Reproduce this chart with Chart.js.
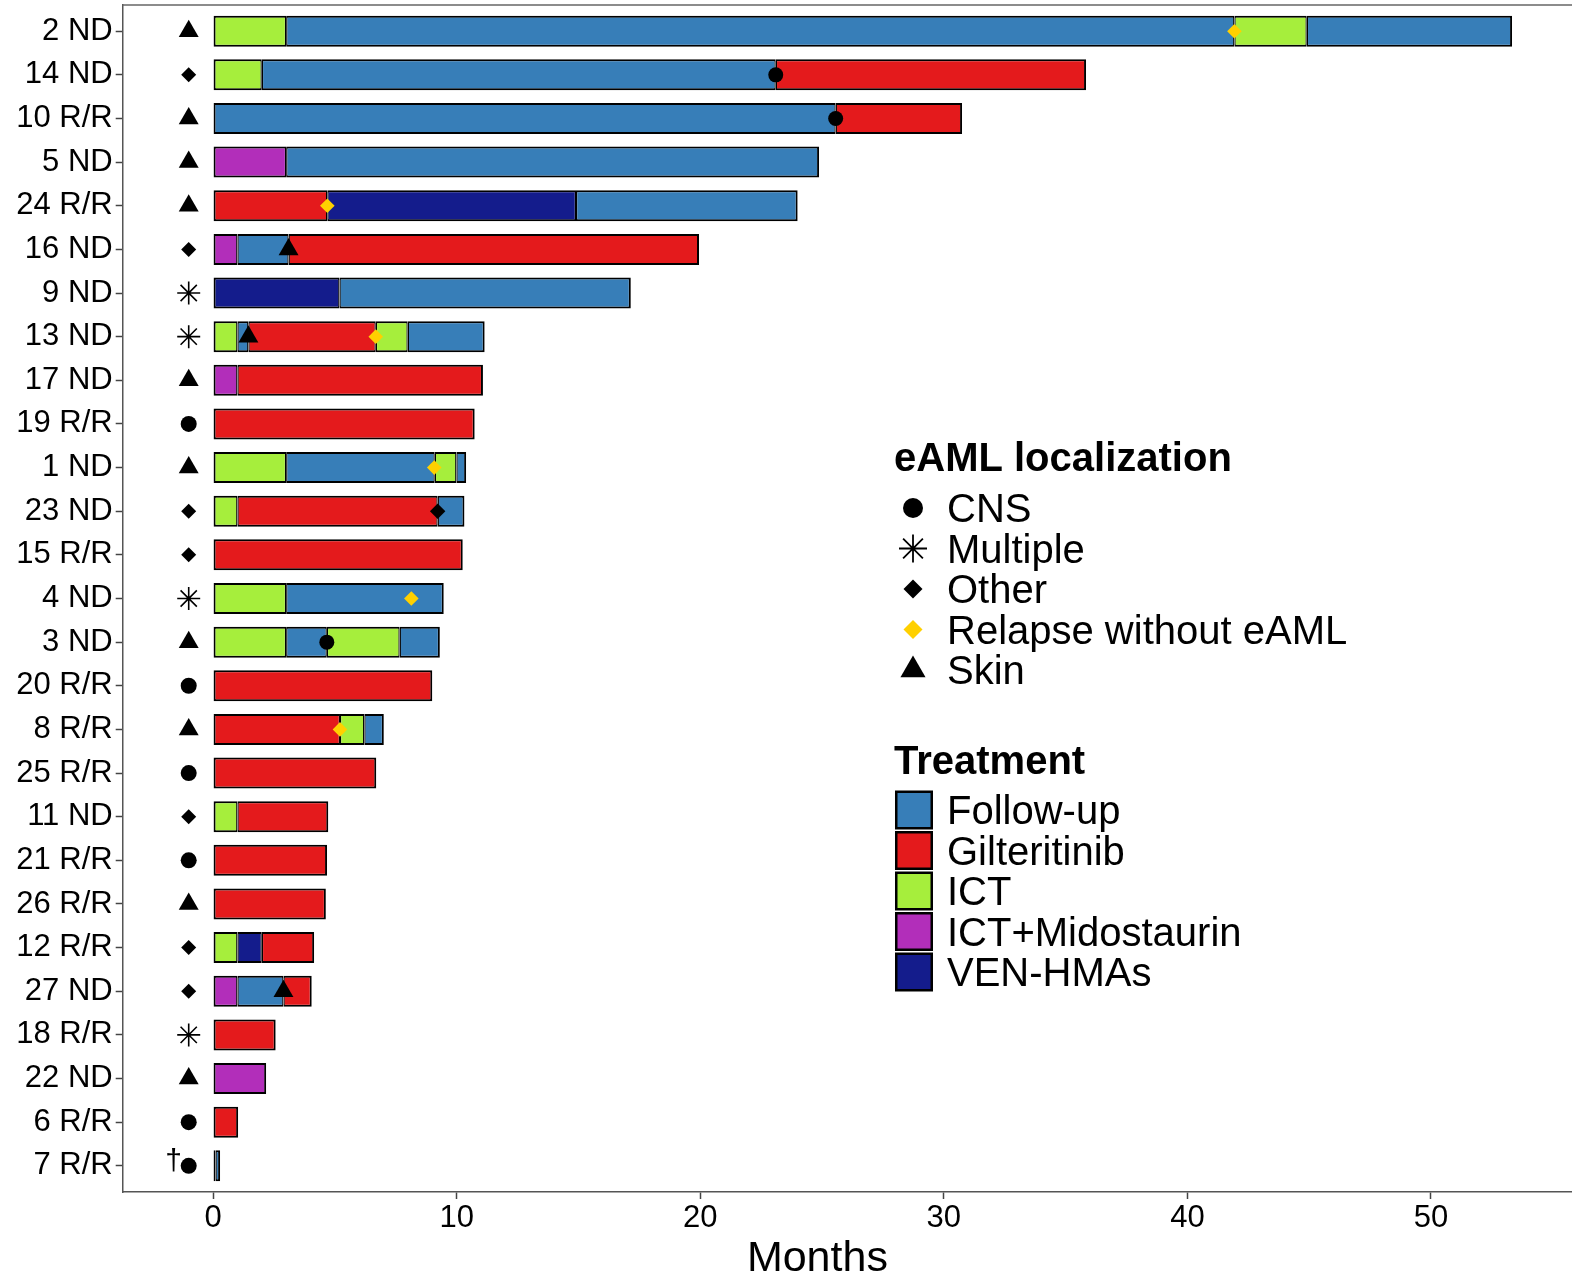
<!DOCTYPE html>
<html><head><meta charset="utf-8">
<script src="https://cdn.jsdelivr.net/npm/chart.js@4.4.1/dist/chart.umd.min.js"></script>
<style>html,body{margin:0;padding:0;background:#fff;} canvas{display:block;}</style>
</head><body>
<canvas id="c" width="1572" height="1277"></canvas>
<script>
// ---------- DATA ----------
const patients = ['2 ND','14 ND','10 R/R','5 ND','24 R/R','16 ND','9 ND','13 ND','17 ND','19 R/R',
  '1 ND','23 ND','15 R/R','4 ND','3 ND','20 R/R','8 R/R','25 R/R','11 ND','21 R/R','26 R/R',
  '12 R/R','27 ND','18 R/R','22 ND','6 R/R','7 R/R'];
const localization = ['Skin','Other','Skin','Skin','Skin','Other','Multiple','Multiple','Skin','CNS',
  'Skin','Other','Other','Multiple','Skin','CNS','Skin','CNS','Other','CNS','Skin',
  'Other','Other','Multiple','Skin','CNS','CNS'];
const deceased = ['7 R/R'];
const xTicks = [0, 10, 20, 30, 40, 50];

// treatment segments: [patient, start month, end month]
const followUp = [['2 ND',3,41.93],['2 ND',44.9,53.33],['14 ND',2,23.1],['10 R/R',0,25.56],['5 ND',3,24.88],
  ['24 R/R',14.9,24.0],['16 ND',1,3.1],['9 ND',5.19,17.15],['13 ND',1,1.45],['13 ND',7.99,11.15],
  ['1 ND',3,9.1],['1 ND',9.99,10.39],['23 ND',9.22,10.32],['4 ND',3,9.47],['3 ND',3,4.67],['3 ND',7.66,9.31],
  ['8 R/R',6.21,7.01],['27 ND',1,2.89],['7 R/R',0.1,0.29]];
const gilteritinib = [['14 ND',23.1,35.84],['10 R/R',25.56,30.75],['24 R/R',0,4.69],['16 ND',3.1,19.95],
  ['13 ND',1.45,6.68],['17 ND',1,11.08],['19 R/R',0,10.74],['23 ND',1,9.22],['15 R/R',0,10.25],
  ['20 R/R',0,9.0],['8 R/R',0,5.21],['25 R/R',0,6.7],['11 ND',1,4.73],['21 R/R',0,4.68],['26 R/R',0,4.63],
  ['12 R/R',2.0,4.15],['27 ND',2.89,4.05],['18 R/R',0,2.57],['6 R/R',0,1.03]];
const ict = [['2 ND',0,3],['2 ND',41.93,44.9],['14 ND',0,2],['13 ND',0,1],['13 ND',6.68,7.99],['1 ND',0,3],
  ['1 ND',9.1,9.99],['23 ND',0,1],['4 ND',0,3],['3 ND',0,3],['3 ND',4.67,7.66],['8 R/R',5.21,6.21],
  ['11 ND',0,1],['12 R/R',0,1],['7 R/R',0,0.1]];
const ictMidostaurin = [['5 ND',0,3],['16 ND',0,1],['17 ND',0,1],['27 ND',0,1],['22 ND',0,2.18]];
const venHMAs = [['24 R/R',4.69,14.9],['9 ND',0,5.19],['12 R/R',1,2.0]];

// events during course: [patient, month]
const eventCNS = [['14 ND',23.1],['10 R/R',25.56],['3 ND',4.67]];
const eventSkin = [['16 ND',3.1],['13 ND',1.45],['27 ND',2.89]];
const eventOther = [['23 ND',9.22]];
const eventRelapse = [['2 ND',41.93],['24 R/R',4.69],['13 ND',6.68],['1 ND',9.08],['4 ND',8.14],['8 R/R',5.21]];
const markerMonth = -1; // column of baseline localization symbols

// ---------- STYLE ----------
const FONT = '"Liberation Sans", Arial, Helvetica, sans-serif';
const treatColors = {'Follow-up':'#377EB8','Gilteritinib':'#E41A1C','ICT':'#A6EE3C','ICT+Midostaurin':'#B22EBA','VEN-HMAs':'#141C8C'};
const relapseColor = '#FFD000';
Chart.defaults.font.family = FONT;

const treatmentLists = [['Follow-up',followUp],['Gilteritinib',gilteritinib],['ICT',ict],['ICT+Midostaurin',ictMidostaurin],['VEN-HMAs',venHMAs]];
const rowEnd = patients.map(p => Math.max(...treatmentLists.flatMap(([,l]) => l.filter(s => s[0]===p).map(s => s[2]))));

function segData(list){ return list.map(([p,s,e]) => ({x:[s,e], y:patients.indexOf(p)})); }
function ptData(list){ return list.map(([p,m]) => ({x:m, y:patients.indexOf(p)})); }
function locData(cat){ return patients.map((p,i)=>({p,i})).filter(o=>localization[o.i]===cat).map(o=>({x:markerMonth,y:o.i})); }

const barDatasets = treatmentLists.map(([name,list]) => ({
  type:'bar', label:name, data:segData(list), backgroundColor:treatColors[name], borderColor:'#000',
  borderSkipped:false, inflateAmount:0, grouped:false, barThickness:31, order:2,
  borderWidth:(c)=>{ const r=c.raw; if(!r) return 2; return {top:2,bottom:2,left:r.x[0]===0?2:1.3,right:Math.abs(r.x[1]-rowEnd[r.y])<1e-9?2:1.3}; }
}));

function sc(label,data,style,r,color,bw){ return {type:'scatter',label,data,pointStyle:style,pointRadius:r,pointHoverRadius:r,
  backgroundColor:color,borderColor:color,pointBorderWidth:bw||0,borderWidth:bw||0,order:1}; }

const pointDatasets = [
  sc('loc-CNS',locData('CNS'),'circle',8,'#000'),
  sc('loc-Multiple',locData('Multiple'),'star',11.5,'#000',1.6),
  sc('loc-Other',locData('Other'),'rectRot',7.5,'#000'),
  sc('loc-Skin',locData('Skin'),'triangle',11.5,'#000'),
  sc('ev-CNS',ptData(eventCNS),'circle',7.5,'#000'),
  sc('ev-Skin',ptData(eventSkin),'triangle',11.5,'#000'),
  sc('ev-Other',ptData(eventOther),'rectRot',7.7,'#000'),
  sc('ev-Relapse',ptData(eventRelapse),'rectRot',7.3,relapseColor)
];

function drawSym(ctx, kind, x, y, r, color){
  ctx.save(); ctx.fillStyle=color; ctx.strokeStyle=color; ctx.beginPath();
  if(kind==='circle'){ ctx.arc(x,y,r,0,Math.PI*2); ctx.fill(); }
  else if(kind==='diamond'){ ctx.moveTo(x,y-r); ctx.lineTo(x+r,y); ctx.lineTo(x,y+r); ctx.lineTo(x-r,y); ctx.closePath(); ctx.fill(); }
  else if(kind==='triangle'){ for(let k=0;k<3;k++){const a=k*2*Math.PI/3; const px=x+Math.sin(a)*r, py=y-Math.cos(a)*r; k?ctx.lineTo(px,py):ctx.moveTo(px,py);} ctx.closePath(); ctx.fill(); }
  else if(kind==='star'){ ctx.lineWidth=1.8; for(let k=0;k<4;k++){const a=k*Math.PI/4; ctx.moveTo(x-Math.cos(a)*r,y-Math.sin(a)*r); ctx.lineTo(x+Math.cos(a)*r,y+Math.sin(a)*r);} ctx.stroke(); }
  ctx.restore();
}

const locLegend = [['CNS','circle',10,'#000'],['Multiple','star',14,'#000'],['Other','diamond',9.5,'#000'],['Relapse without eAML','diamond',9.5,relapseColor],['Skin','triangle',14.5,'#000']];

const decorPlugin = {
  id:'decor',
  afterDraw(chart){
    const ctx=chart.ctx, a=chart.chartArea, xs=chart.scales.x, ys=chart.scales.y;
    ctx.save();
    // top frame line
    ctx.strokeStyle='#666'; ctx.lineWidth=1.5; ctx.beginPath(); ctx.moveTo(a.left,a.top); ctx.lineTo(a.right,a.top); ctx.stroke();
    // dagger for deceased patients
    ctx.fillStyle='#000'; ctx.font='30px '+FONT; ctx.textAlign='center'; ctx.textBaseline='middle';
    deceased.forEach(p=>{ const px=xs.getPixelForValue(markerMonth), py=ys.getPixelForValue(patients.indexOf(p)); ctx.fillText('\u2020', px-15, py-4); });
    // x-axis title, centred under data extent
    const maxEnd=Math.max(...rowEnd);
    ctx.font='43px '+FONT; ctx.textBaseline='alphabetic';
    ctx.fillText('Months',(a.left+xs.getPixelForValue(maxEnd))/2,1271);
    // legend
    ctx.textAlign='left';
    ctx.font='bold 40px '+FONT; ctx.fillText('eAML localization',894,471);
    ctx.font='40px '+FONT;
    locLegend.forEach(([lab,kind,r,col],i)=>{ const cy=508+i*40.5; drawSym(ctx,kind,913,cy,r,col); ctx.fillStyle='#000'; ctx.fillText(lab,947,cy+14); });
    ctx.font='bold 40px '+FONT; ctx.fillText('Treatment',894,774);
    ctx.font='40px '+FONT;
    treatmentLists.forEach(([name],i)=>{ const cy=810+i*40.5;
      ctx.fillStyle='#000'; ctx.fillRect(895,cy-19.5,38,39);
      ctx.fillStyle=treatColors[name]; ctx.fillRect(897.5,cy-17,33,34);
      ctx.fillStyle='#000'; ctx.fillText(name,947,cy+14); });
    ctx.restore();
  }
};

function zeroPad(s){ s.paddingTop=0; s.paddingBottom=0; s.paddingLeft=0; s.paddingRight=0; }

new Chart(document.getElementById('c'), {
  type:'bar',
  data:{ datasets:[...pointDatasets, ...barDatasets] },
  options:{
    indexAxis:'y', responsive:false, animation:false, devicePixelRatio:1,
    layout:{autoPadding:false, padding:{top:5,right:0,bottom:0,left:0}},
    plugins:{legend:{display:false}, tooltip:{enabled:false}},
    scales:{
      x:{ type:'linear', min:-3.71, max:55.79, offset:false,
        afterBuildTicks:(s)=>{ s.ticks = xTicks.map(v=>({value:v})); },
        afterFit:(s)=>{ s.height = 85; zeroPad(s); },
        ticks:{ font:{size:31, lineHeight:1}, color:'#000', padding:4, maxRotation:0, autoSkip:false, callback:(v)=>String(v) },
        grid:{ offset:false, drawOnChartArea:false, drawTicks:true, tickLength:7, tickColor:'#444', tickWidth:1.5 },
        border:{ display:true, color:'#555', width:1.5 }
      },
      y:{ type:'linear', min:-0.6, max:26.6, reverse:true, offset:false,
        afterBuildTicks:(s)=>{ s.ticks = patients.map((p,i)=>({value:i})); },
        afterFit:(s)=>{ s.width = 122.7; zeroPad(s); },
        ticks:{ font:{size:31, lineHeight:1}, color:'#000', padding:3, autoSkip:false, callback:(v)=>patients[v] },
        grid:{ offset:false, drawOnChartArea:false, drawTicks:true, tickLength:7, tickColor:'#444', tickWidth:1.5 },
        border:{ display:true, color:'#555', width:1.5 }
      }
    }
  },
  plugins:[decorPlugin]
});
</script>
</body></html>
